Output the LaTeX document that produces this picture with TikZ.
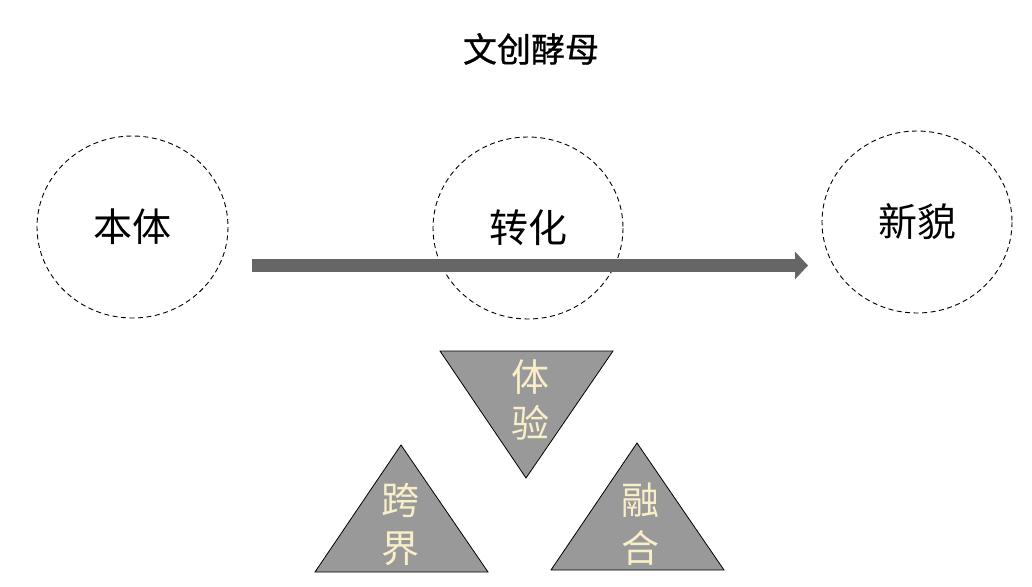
\documentclass[tikz,border=0pt]{standalone}
\usepackage{fontspec}
\setmainfont{Noto Sans CJK SC}
\newfontfamily\titlefont[FakeBold=0.8]{Noto Sans CJK SC}
\usetikzlibrary{arrows.meta}
\definecolor{shaft}{HTML}{666666}
\definecolor{trifill}{HTML}{999999}
\definecolor{cream}{HTML}{F8EEC8}
\tikzset{
  ring/.style={draw=black, line width=0.9pt, dash pattern=on 5pt off 3.5pt},
  bigtext/.style={font=\fontsize{39}{39}\selectfont, text=black, inner sep=0pt},
  tritext/.style={font=\fontsize{38}{38}\selectfont, text=cream, inner sep=0pt},
  tri/.style={draw=black, fill=trifill, line width=0.8pt, line join=miter},
}
\begin{document}
\begin{tikzpicture}[x=1pt,y=-1pt]
\useasboundingbox (0,0) rectangle (1032,586);
\fill[white] (0,0) rectangle (1032,586);
% title
\node[font=\titlefont\fontsize{34}{34}\selectfont, inner sep=0pt] (title) at (531,49) {文创酵母};
% rings
\draw[ring] (132.5,227) ellipse [x radius=95.5, y radius=91];
\draw[ring] (528,228) ellipse [x radius=95, y radius=91];
\draw[ring] (917,222) ellipse [x radius=95, y radius=91];
\node[bigtext] (benti) at (132,227) {本体};
\node[bigtext] (zhuanhua) at (528,228) {转化};
\node[bigtext] (xinmao) at (917,222) {新貌};
% arrow
\coordinate (astart) at (252,265.5);
\coordinate (aend) at (808,265.5);
\draw[shaft, line width=12.5pt, -{Triangle[length=13pt,width=27pt]}] (astart) -- (aend);
% triangles
\draw[tri] (440,351) -- (613,351) -- (526,478) -- cycle;
\draw[tri] (315,572) -- (488,572) -- (401,445) -- cycle;
\draw[tri] (551,570) -- (724,570) -- (637,443) -- cycle;
\node[tritext] (ti) at (530,377) {体};
\node[tritext] (yan) at (530,423) {验};
\node[tritext] (kua) at (400,500) {跨};
\node[tritext] (jie) at (400,549) {界};
\node[tritext] (rong) at (640,500) {融};
\node[tritext] (he) at (640,548) {合};
\end{tikzpicture}
\end{document}
